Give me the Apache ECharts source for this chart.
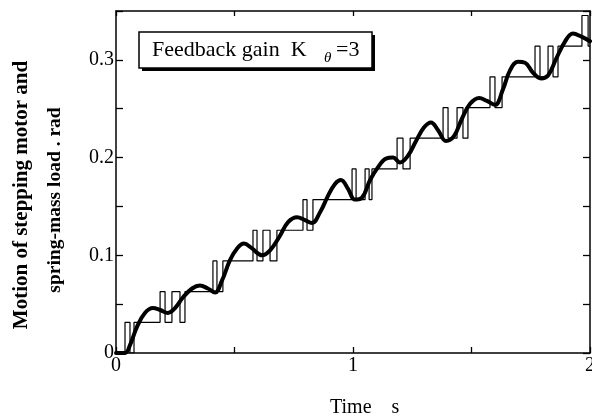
<!DOCTYPE html>
<html>
<head>
<meta charset="utf-8">
<script src="https://cdn.jsdelivr.net/npm/echarts@6/dist/echarts.min.js"></script>
<style>
  html, body { margin: 0; padding: 0; background: #fff; }
  #chart { width: 592px; height: 420px; }
</style>
</head>
<body>
<div id="chart"></div>
<script>
// Stepping motor command: switching instants (s) and the angle held after each switch (rad)
const motorTimes = [
  0,
  0.038, 0.059, 0.076,
  0.186, 0.207, 0.236, 0.270, 0.291,
  0.409, 0.426, 0.451,
  0.578, 0.595, 0.620, 0.650, 0.679,
  0.789, 0.806, 0.831,
  0.996, 1.013, 1.051, 1.068, 1.080,
  1.186, 1.211, 1.241,
  1.380, 1.401, 1.439, 1.464, 1.485,
  1.578, 1.599, 1.629,
  1.768, 1.789, 1.823, 1.844, 1.865,
  1.966, 1.992,
  2.0
];
const motorAngles = [
  0,
  0.0314, 0, 0.0314,
  0.0628, 0.0314, 0.0628, 0.0314, 0.0628,
  0.0942, 0.0628, 0.0942,
  0.1256, 0.0942, 0.1256, 0.0942, 0.1256,
  0.1570, 0.1256, 0.1570,
  0.1884, 0.1570, 0.1884, 0.1570, 0.1884,
  0.2198, 0.1884, 0.2198,
  0.2512, 0.2198, 0.2512, 0.2198, 0.2512,
  0.2826, 0.2512, 0.2826,
  0.3140, 0.2826, 0.3140, 0.2826, 0.3140,
  0.3454, 0.3140,
  0.3140
];

// Spring-mass load response (rad) sampled against time (s)
const loadTimes = [
  0, 0.038, 0.059, 0.089, 0.122, 0.156, 0.186, 0.219, 0.249, 0.283,
  0.321, 0.354, 0.388, 0.418, 0.447, 0.481, 0.511, 0.540, 0.574, 0.616,
  0.650, 0.692, 0.726, 0.764, 0.797, 0.827, 0.861, 0.895, 0.924, 0.949,
  0.979, 1.008, 1.038, 1.072, 1.105, 1.139, 1.169, 1.198, 1.232, 1.266,
  1.300, 1.329, 1.359, 1.392, 1.426, 1.460, 1.494, 1.532, 1.565, 1.599,
  1.633, 1.662, 1.696, 1.726, 1.759, 1.793, 1.823, 1.857, 1.895, 1.928,
  1.962, 2.0
];
const loadAngles = [
  0, 0, 0.008, 0.027, 0.041, 0.046, 0.044, 0.041, 0.046, 0.057,
  0.066, 0.069, 0.066, 0.062, 0.074, 0.095, 0.107, 0.112, 0.107, 0.100,
  0.105, 0.120, 0.134, 0.139, 0.136, 0.133, 0.144, 0.161, 0.173, 0.177,
  0.168, 0.157, 0.159, 0.177, 0.190, 0.199, 0.200, 0.195, 0.202, 0.217,
  0.231, 0.236, 0.228, 0.217, 0.222, 0.240, 0.255, 0.261, 0.258, 0.254,
  0.270, 0.289, 0.298, 0.297, 0.287, 0.281, 0.284, 0.301, 0.319, 0.327,
  0.324, 0.319
];

const xTickLabels = ['0', '1', '2'];
const yTickLabels = ['0', '0.1', '0.2', '0.3'];

const serif = '"Liberation Serif", "DejaVu Serif", serif';

const motorData = motorTimes.map((t, i) => [t, motorAngles[i]]);
const loadData = loadTimes.map((t, i) => [t, loadAngles[i]]);

const axisLine = { show: true, onZero: false, lineStyle: { color: '#000', width: 1.5 } };
const tickStyle = { color: '#000', width: 1.3 };

const chart = echarts.init(document.getElementById('chart'), null, { renderer: 'canvas' });
chart.setOption({
  animation: false,
  backgroundColor: '#fff',
  grid: { left: 116, right: 2, top: 11, bottom: 67, containLabel: false, outerBoundsMode: 'none' },
  xAxis: [
    {
      type: 'value', min: 0, max: 2, interval: 0.5, position: 'bottom',
      axisLine: axisLine,
      axisTick: { show: true, inside: true, length: 6, lineStyle: tickStyle },
      splitLine: { show: false },
      axisLabel: {
        color: '#000', fontFamily: serif, fontSize: 20, margin: 3,
        formatter: v => {
          const idx = Math.round(v * 2);
          return idx % 2 === 0 ? xTickLabels[idx / 2] : '';
        }
      }
    },
    {
      type: 'value', min: 0, max: 2, interval: 0.5, position: 'top',
      axisLine: axisLine,
      axisTick: { show: true, inside: true, length: 5, lineStyle: tickStyle },
      splitLine: { show: false },
      axisLabel: { show: false }
    }
  ],
  yAxis: [
    {
      type: 'value', min: 0, max: 0.35, interval: 0.05, position: 'left',
      axisLine: axisLine,
      axisTick: { show: true, inside: true, length: 7, lineStyle: tickStyle },
      splitLine: { show: false },
      axisLabel: {
        color: '#000', fontFamily: serif, fontSize: 20, margin: 2,
        formatter: v => {
          const idx = Math.round(v * 20);
          return idx % 2 === 0 && yTickLabels[idx / 2] !== undefined ? yTickLabels[idx / 2] : '';
        }
      }
    },
    {
      type: 'value', min: 0, max: 0.35, interval: 0.05, position: 'right',
      axisLine: axisLine,
      axisTick: { show: true, inside: true, length: 7, lineStyle: tickStyle },
      splitLine: { show: false },
      axisLabel: { show: false }
    }
  ],
  series: [
    {
      name: 'Stepping motor',
      type: 'line',
      data: motorData,
      step: 'end',
      symbol: 'none',
      lineStyle: { color: '#000', width: 1.2 },
      z: 2
    },
    {
      name: 'Spring-mass load',
      type: 'line',
      data: loadData,
      smooth: 0.4,
      symbol: 'none',
      lineStyle: { color: '#000', width: 4, cap: 'round', join: 'round' },
      z: 3
    }
  ],
  graphic: [
    // framed annotation with drop shadow
    { type: 'rect', shape: { x: 142, y: 35, width: 233, height: 36 }, style: { fill: '#000' }, z: 10 },
    { type: 'rect', shape: { x: 139, y: 32, width: 233, height: 36 }, style: { fill: '#fff', stroke: '#000', lineWidth: 1.5 }, z: 11 },
    { type: 'text', x: 152, y: 50, style: { text: 'Feedback gain  K', font: '22px ' + serif, fill: '#000', textVerticalAlign: 'middle' }, z: 12 },
    { type: 'text', x: 324, y: 58, style: { text: 'θ', font: 'italic 15px ' + serif, fill: '#000', textVerticalAlign: 'middle' }, z: 12 },
    { type: 'text', x: 336, y: 50, style: { text: '=3', font: '22px ' + serif, fill: '#000', textVerticalAlign: 'middle' }, z: 12 },
    // axis titles
    { type: 'text', x: 22, y: 195, rotation: Math.PI / 2, style: { text: 'Motion of stepping motor and', font: 'bold 21px ' + serif, fill: '#000', textAlign: 'center', textVerticalAlign: 'middle' } },
    { type: 'text', x: 55, y: 200, rotation: Math.PI / 2, style: { text: 'spring-mass load . rad', font: 'bold 19.5px ' + serif, fill: '#000', textAlign: 'center', textVerticalAlign: 'middle' } },
    { type: 'text', x: 330, y: 408, style: { text: 'Time    s', font: '20px ' + serif, fill: '#000', textVerticalAlign: 'middle' } }
  ]
});
</script>
</body>
</html>
